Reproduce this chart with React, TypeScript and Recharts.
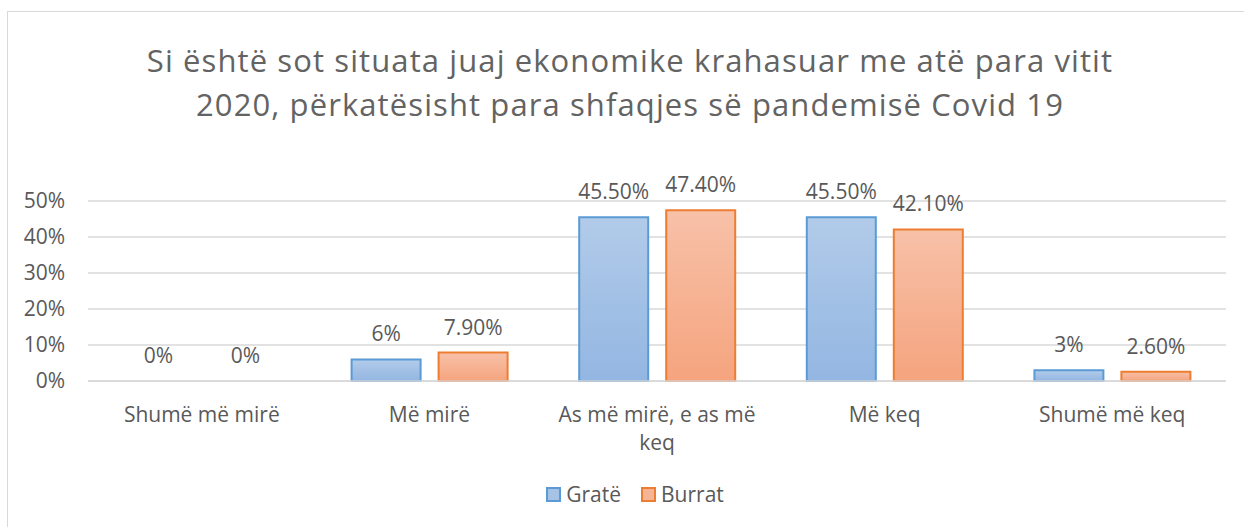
import React from "react";
import { BarChart, Bar, XAxis, YAxis, CartesianGrid, Legend, LabelList, Rectangle } from "recharts";

const categories = ["Shumë më mirë", "Më mirë", "As më mirë, e as më keq", "Më keq", "Shumë më keq"];
const grate = [0, 6, 45.5, 45.5, 3];
const burrat = [0, 7.9, 47.4, 42.1, 2.6];
const yTicks = [0, 10, 20, 30, 40, 50];
const seriesKeys = ["grate", "burrat"];
const titleLines = [
  "Si është sot situata juaj ekonomike krahasuar me atë para vitit",
  "2020, përkatësisht para shfaqjes së pandemisë Covid 19",
];

const data = categories.map((name, i) => ({ name, grate: grate[i], burrat: burrat[i] }));

const FONT = "'Open Sans', 'Noto Sans', sans-serif";
const GREY = "#595959";
const LABEL_SIZE = 21;
const MAX_CHARS = 20;

const fmt = (v: any) => (Number.isInteger(v) ? `${v}%` : `${Number(v).toFixed(2)}%`);

// greedy word wrap, like excel does for the long category
function wrap(s: string) {
  const lines: string[] = [];
  let cur = "";
  s.split(" ").forEach((w) => {
    const next = cur ? `${cur} ${w}` : w;
    if (next.length > MAX_CHARS && cur) {
      lines.push(cur);
      cur = w;
    } else cur = next;
  });
  if (cur) lines.push(cur);
  return lines;
}

function CategoryTick({ x, y, payload }: any) {
  return (
    <text x={x} y={y} textAnchor="middle" fill={GREY} fontSize={LABEL_SIZE} fontFamily={FONT}>
      {wrap(String(payload.value)).map((l, i) => (
        <tspan key={i} x={x} dy={i === 0 ? "0.71em" : 28}>
          {l}
        </tspan>
      ))}
    </text>
  );
}

function ValueLabel({ x, y, width, value }: any) {
  return (
    <text x={x + width / 2} y={y - 18} textAnchor="middle" fill={GREY} fontSize={LABEL_SIZE} fontFamily={FONT}>
      {fmt(value)}
    </text>
  );
}

// zero bars keep a hair-thin rect so their label still shows; don't draw it
function BarShape(props: any) {
  if (props.height < 0.5) return <g />;
  return <Rectangle {...props} />;
}

function LegendBox({ payload }: any) {
  const items = [...(payload || [])].sort(
    (a: any, b: any) => seriesKeys.indexOf(a.dataKey) - seriesKeys.indexOf(b.dataKey)
  );
  return (
    <div
      style={{
        display: "flex",
        justifyContent: "center",
        gap: 20,
        paddingLeft: 44,
        fontFamily: FONT,
        fontSize: LABEL_SIZE,
        color: GREY,
        lineHeight: "25px",
      }}
    >
      {items.map((p: any) => (
        <span key={p.value} style={{ display: "flex", alignItems: "center" }}>
          <span
            style={{
              width: 11,
              height: 11,
              marginRight: 5,
              border: `2px solid ${p.dataKey === "grate" ? "#5b9bd5" : "#ed7d31"}`,
              background: p.dataKey === "grate" ? "#a6c3e6" : "#f6b496",
            }}
          />
          {p.value}
        </span>
      ))}
    </div>
  );
}

export default function App() {
  return (
    <div style={{ position: "absolute", left: 0, top: 0, width: 1244, height: 527, overflow: "hidden", background: "#fff" }}>
      <div style={{ position: "absolute", left: 7, top: 11, width: 1300, height: 600, border: "1px solid #d9d9d9" }} />
      <div
        style={{
          position: "absolute",
          left: 8,
          top: 38,
          width: 1244,
          textAlign: "center",
          fontFamily: FONT,
          fontSize: 31,
          letterSpacing: 1.1,
          lineHeight: "44px",
          color: "#636363",
        }}
      >
        {titleLines.map((t) => (
          <div key={t}>{t}</div>
        ))}
      </div>
      <div style={{ position: "absolute", left: 0, top: 0 }}>
        <BarChart
          width={1244}
          height={527}
          data={data}
          margin={{ top: 201, right: 18, left: 0, bottom: 20 }}
          barSize={69}
          barGap={18}
        >
          <defs>
            <linearGradient id="gBlue" x1="0" y1="0" x2="0" y2="1">
              <stop offset="0%" stopColor="#b2cbe9" />
              <stop offset="100%" stopColor="#93b6e2" />
            </linearGradient>
            <linearGradient id="gOrange" x1="0" y1="0" x2="0" y2="1">
              <stop offset="0%" stopColor="#f7c1a8" />
              <stop offset="100%" stopColor="#f5a47e" />
            </linearGradient>
          </defs>
          <CartesianGrid vertical={false} stroke="#d9d9d9" strokeWidth={1.5} />
          <XAxis
            dataKey="name"
            height={101}
            tickLine={false}
            tickSize={0}
            tickMargin={26}
            axisLine={{ stroke: "#d9d9d9", strokeWidth: 1.5 }}
            tick={<CategoryTick />}
            interval={0}
          />
          <YAxis
            width={88}
            domain={[0, 50]}
            ticks={yTicks}
            tickFormatter={(v) => `${v}%`}
            axisLine={false}
            tickLine={false}
            tickSize={0}
            tickMargin={23}
            tick={{ fill: GREY, fontSize: LABEL_SIZE, fontFamily: FONT }}
          />
          <Legend verticalAlign="bottom" align="center" height={25} content={<LegendBox />} />
          <Bar
            dataKey="grate"
            name="Gratë"
            fill="url(#gBlue)"
            stroke="#5b9bd5"
            strokeWidth={2}
            minPointSize={0.1}
            shape={<BarShape />}
            isAnimationActive={false}
          >
            <LabelList dataKey="grate" content={<ValueLabel />} />
          </Bar>
          <Bar
            dataKey="burrat"
            name="Burrat"
            fill="url(#gOrange)"
            stroke="#ed7d31"
            strokeWidth={2}
            minPointSize={0.1}
            shape={<BarShape />}
            isAnimationActive={false}
          >
            <LabelList dataKey="burrat" content={<ValueLabel />} />
          </Bar>
        </BarChart>
      </div>
    </div>
  );
}
